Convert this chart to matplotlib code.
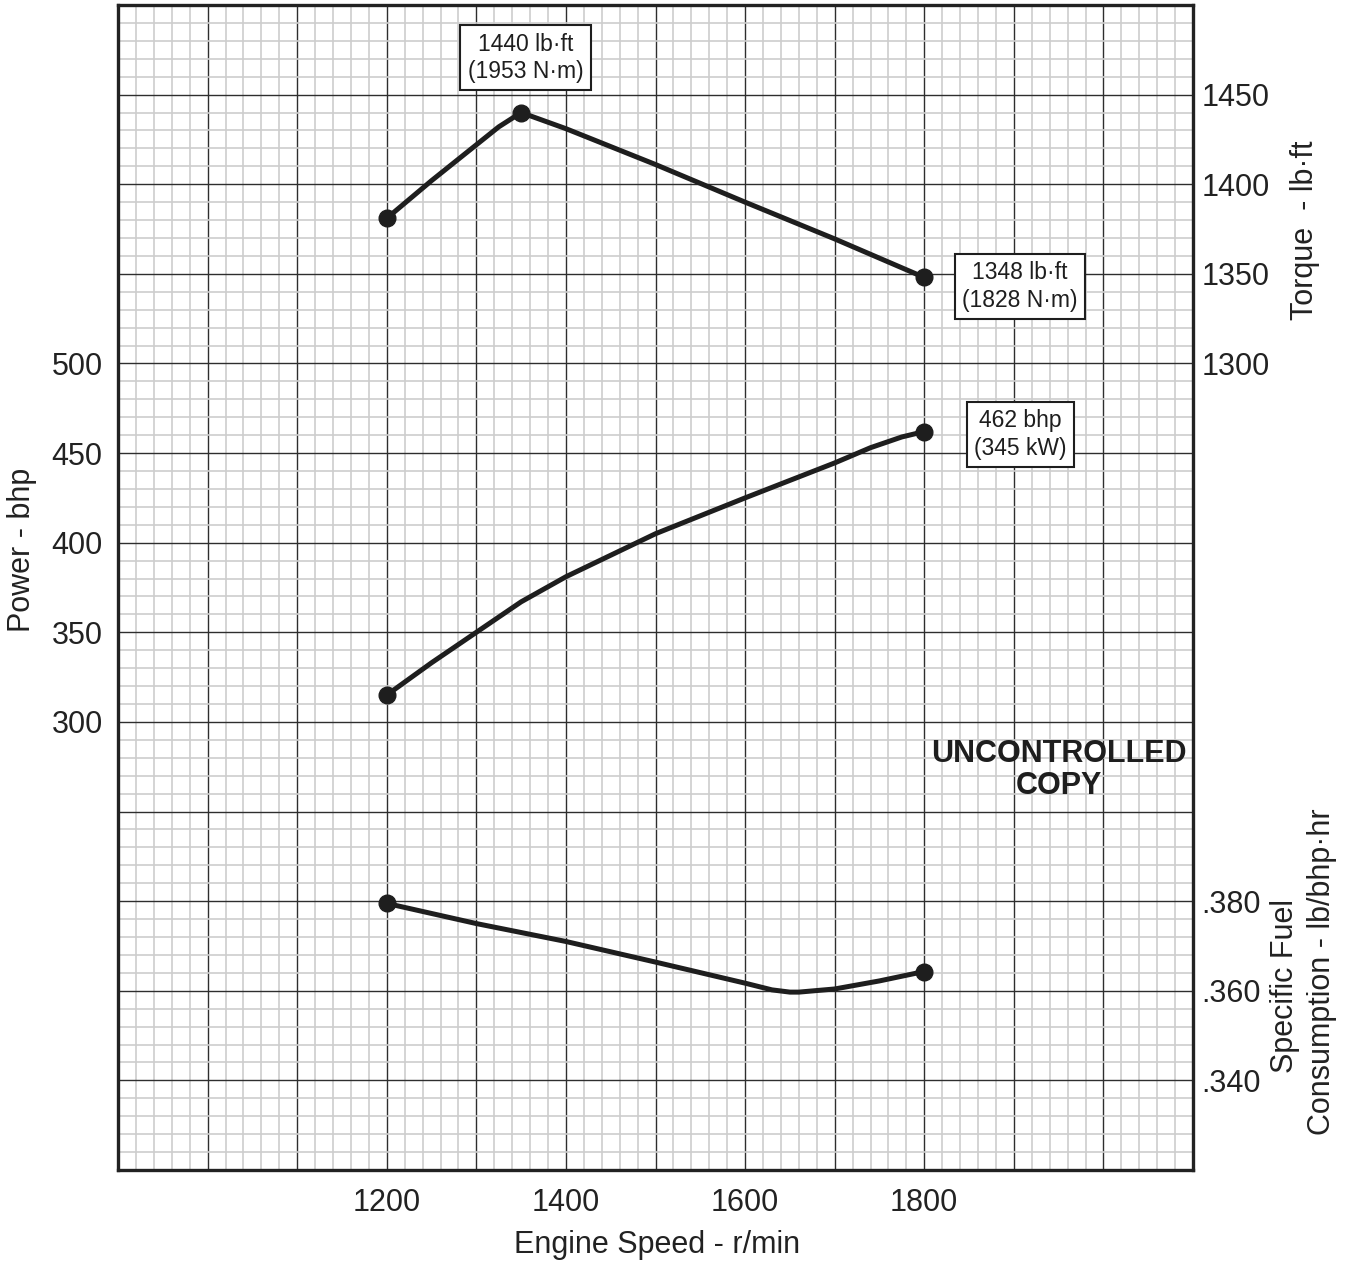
import matplotlib
matplotlib.use('Agg')
import matplotlib.pyplot as plt
from matplotlib.ticker import MultipleLocator, FuncFormatter

plt.rcParams['font.family'] = ['Liberation Sans', 'DejaVu Sans']

# values
speed_torque = [1200, 1250, 1300, 1325, 1350, 1400, 1500, 1600, 1700, 1800]
torque = [1381, 1402, 1422, 1432, 1440, 1431, 1411, 1390, 1369.5, 1348]

speed_power = [1200, 1250, 1300, 1350, 1400, 1500, 1550, 1600, 1700, 1740, 1775, 1800]
power = [315, 333, 350, 367, 381, 405, 415, 425, 444.5, 453, 459, 462]

speed_bsfc = [1200, 1300, 1400, 1500, 1600, 1630, 1650, 1660, 1700, 1750, 1800]
bsfc = [0.3795, 0.3750, 0.3710, 0.3664, 0.3617, 0.3602, 0.3597, 0.3597, 0.3604, 0.3622, 0.3643]

power_labels = [300, 350, 400, 450, 500]
torque_labels = [1300, 1350, 1400, 1450]
bsfc_labels = [0.340, 0.360, 0.380]
speed_labels = [1200, 1400, 1600, 1800]

torque_note = '1440 lb\u00b7ft\n(1953 N\u00b7m)'
torque_end_note = '1348 lb\u00b7ft\n(1828 N\u00b7m)'
power_note = '462 bhp\n(345 kW)'

fig = plt.figure(figsize=(13.53, 12.61), dpi=100, facecolor='w')
ax = fig.add_axes([118/1353, 1 - 1170/1261, 1075/1353, 1165/1261])

ax.set_xlim(900, 2100)
ax.set_ylim(50, 700)
ax.xaxis.set_major_locator(MultipleLocator(100))
ax.xaxis.set_minor_locator(MultipleLocator(20))
ax.yaxis.set_major_locator(MultipleLocator(50))
ax.yaxis.set_minor_locator(MultipleLocator(10))
ax.grid(which='minor', color='#cdcdcd', lw=1.2, zorder=0)
ax.grid(which='major', color='#2e2e2e', lw=1.0, zorder=1)
ax.set_axisbelow(True)

ax.xaxis.set_major_formatter(FuncFormatter(lambda v, p: '%d' % v if int(round(v)) in speed_labels else ''))
ax.yaxis.set_major_formatter(FuncFormatter(lambda v, p: '%d' % v if int(round(v)) in power_labels else ''))
ax.tick_params(which='both', length=0)
ax.tick_params(axis='x', labelsize=22, pad=13, colors='#222222')
ax.tick_params(axis='y', labelsize=22, pad=11, colors='#222222')
for s in ax.spines.values():
    s.set_linewidth(2.4)
    s.set_color('#222222')

ax_t = ax.twinx()
ax_t.set_ylim(850, 1500)
ax_t.set_yticks(torque_labels)
ax_t.set_yticklabels([str(t) for t in torque_labels])

ax_f = ax.twinx()
ax_f.set_ylim(0.320, 0.580)
ax_f.set_yticks(bsfc_labels)
ax_f.yaxis.set_major_formatter(FuncFormatter(lambda v, p: ('%.3f' % v)[1:]))

for a in (ax_t, ax_f):
    a.tick_params(length=0, labelsize=22, pad=6, colors='#222222')
    for s in a.spines.values():
        s.set_visible(False)

line_kw = dict(color='#1e1e1e', lw=3.6, marker='o', markersize=12,
               solid_joinstyle='round', solid_capstyle='round', zorder=5)
ax_t.plot(speed_torque, torque, markevery=[0, 4, len(torque) - 1], **line_kw)
ax.plot(speed_power, power, markevery=[0, len(power) - 1], **line_kw)
ax_f.plot(speed_bsfc, bsfc, markevery=[0, len(bsfc) - 1], **line_kw)

box_kw = dict(boxstyle='square,pad=0.32', fc='white', ec='#1e1e1e', lw=1.5)
note_kw = dict(ha='center', va='center', fontsize=16.5, linespacing=1.25,
               bbox=box_kw, color='#1e1e1e', zorder=6)
ax_t.text(1355, 1470.5, torque_note, **note_kw)
ax_t.text(1907, 1343, torque_end_note, **note_kw)
ax.text(1907, 460.5, power_note, **note_kw)

ax.text(1950, 273, 'UNCONTROLLED\nCOPY', ha='center', va='center', fontsize=22,
        fontweight='bold', linespacing=1.1, color='#1e1e1e', zorder=6)

lab_kw = dict(ha='center', va='center', fontsize=22, color='#222222')
fig.text(22/1353, 1 - 550/1261, 'Power - bhp', rotation=90, **lab_kw)
fig.text(1305/1353, 1 - 230/1261, 'Torque  - lb\u00b7ft', rotation=90, **lab_kw)
fig.text(1285/1353, 1 - 986/1261, 'Specific Fuel', rotation=90, **lab_kw)
fig.text(1322/1353, 1 - 972/1261, 'Consumption - lb/bhp\u00b7hr', rotation=90, **lab_kw)
fig.text(657/1353, 1 - 1245/1261, 'Engine Speed - r/min', **lab_kw)

plt.savefig('out.png', dpi=100, facecolor='w')
plt.close()
